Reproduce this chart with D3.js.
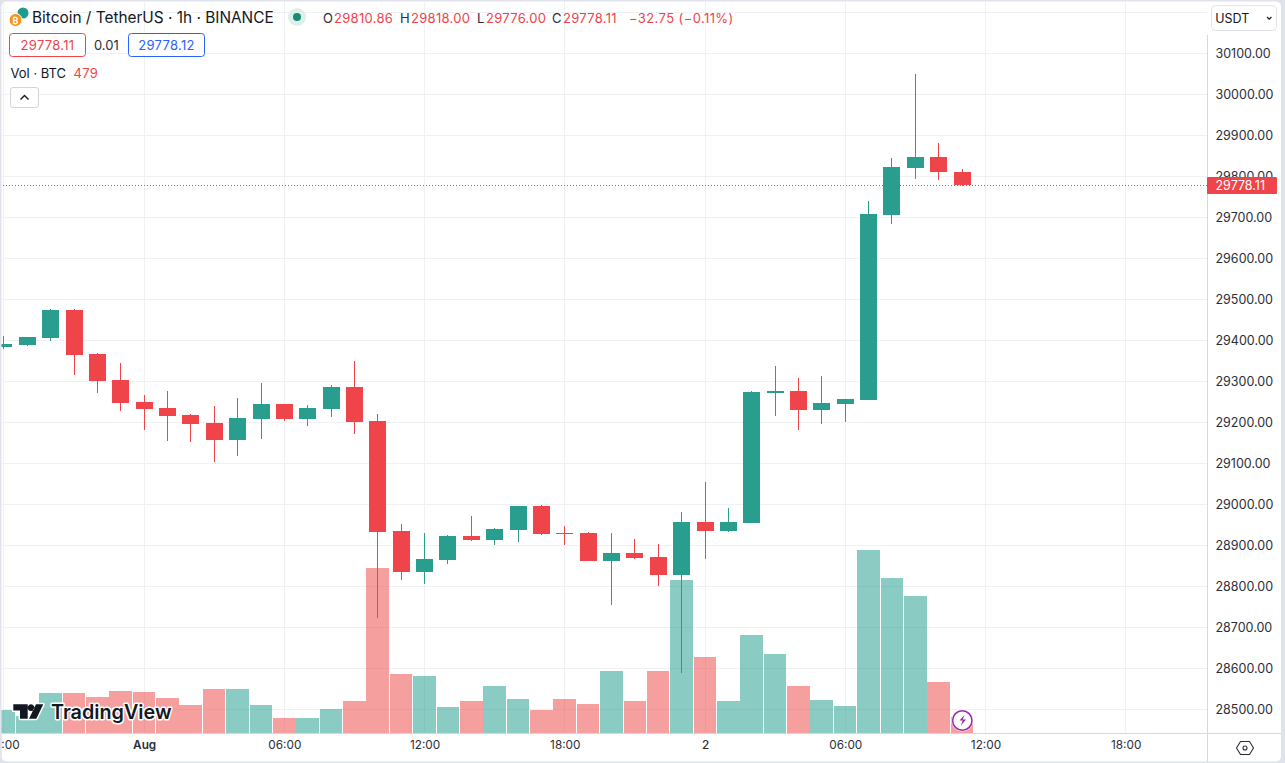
<!DOCTYPE html>
<html><head><meta charset="utf-8">
<script src="https://cdn.jsdelivr.net/npm/d3@7/dist/d3.min.js"></script>
<style>
html,body{margin:0;padding:0;background:#e0e3eb;overflow:hidden}
svg{display:block}
text{font-family:Inter,"Noto Sans",sans-serif;font-size:13px;fill:#131722}
</style></head><body>
<svg id="c" width="1285" height="763"></svg>
<script>
const hours=[-6,-5,-4,-3,-2,-1,0,1,2,3,4,5,6,7,8,9,10,11,12,13,14,15,16,17,18,19,20,21,22,23,24,25,26,27,28,29,30,31,32,33,34,35];
const opens=[29383,29387.8,29404.9,29473.2,29365.9,29302.5,29248.8,29234.2,29217.1,29197.6,29156.1,29207.3,29243.9,29207.3,29231.7,29285.4,29202.4,28934.2,28834.2,28863.4,28922,28912.3,28936.7,28995.2,28929.3,28929.3,28861,28880.5,28870.8,28826.8,28956,28934.2,28953.6,29270.7,29275.6,29229.3,29243.9,29253.7,29704.9,29819.5,29846.4,29810.86];
const highs=[29409.8,29408,29475.6,29475,29368.3,29343.9,29265.9,29275.6,29219.5,29239,29258.5,29295.1,29245,29241.5,29290.3,29348.8,29219.5,28951.2,28929.3,28924.4,28970.8,28941.5,28996,28997.6,28946.4,28931.7,28929.3,28914.6,28902.5,28980.5,29053.7,28990.2,29275.6,29336.6,29307.3,29312.2,29257,29739,29843.9,30048.8,29880.5,29818];
const lows=[29378,29385.4,29397.6,29314.6,29270.7,29226.8,29180.5,29153.7,29151.2,29102.5,29117.1,29158.5,29202.4,29190.3,29212.2,29170.7,28722,28814.7,28804.9,28853.7,28909.8,28900,28907.3,28925,28900,28860,28753.7,28865.9,28800,28587.8,28865.9,28931.7,28953,29214.6,29180.5,29195.2,29200,29253,29683,29792.7,29790.3,29776];
const closes=[29390.2,29407.3,29473.2,29363.4,29300,29246.3,29231.7,29214.7,29195.2,29156.1,29209.8,29243.9,29207.3,29234.2,29285.4,29200,28931.7,28834.2,28865.9,28922,28912.3,28939.1,28995.2,28926.8,28926.8,28861,28880.5,28868.3,28826.8,28956,28934.2,28956,29273.2,29275.6,29229.3,29246.3,29256,29707.3,29822,29846.4,29810.86,29778.11];
const volumes=[690,510,1200,1200,1080,1260,1230,1050,840,1320,1320,840,450,450,720,960,4950,1770,1710,780,960,1410,1020,690,1020,870,1860,960,1860,4590,2280,960,2940,2370,1410,990,810,5490,4650,4110,1530,479];
const priceTicks=[30100,30000,29900,29800,29700,29600,29500,29400,29300,29200,29100,29000,28900,28800,28700,28600,28500];
const gridPrices=[30200].concat(priceTicks);
const timeTicks=[-6,0,6,12,18,24,30,36,42];
const timeLabels=["18:00","Aug","06:00","12:00","18:00","2","06:00","12:00","18:00"];
const lastPrice=29778.11;
const title="Bitcoin / TetherUS · 1h · BINANCE";
const legendOHLC=[["O","29810.86",323,334],["H","29818.00",400,411],["L","29776.00",477,486],["C","29778.11",552,563]];
const legendChange="−32.75 (−0.11%)";
const bid="29778.11",spread="0.01",ask="29778.12",volLabel="Vol · BTC",volNow="479",currency="USDT";

const UP="#2a9e8e",DOWN="#ee444a",UPV="rgb(21,153,135)",DOWNV="rgb(235,63,63)",GRID="#f0f1f4",AXIS="#d6d8df";
const svg=d3.select("#c");
const x=d3.scaleLinear().domain([0,24]).range([144.15,705.03]);
const y=d3.scaleLinear().domain([28500,30100]).range([709,53]);
const yv=d3.scaleLinear().domain([0,6000]).range([733,533]);
const sx=h=>Math.floor(x(h))+.5;

// panel
svg.append("rect").attr("x",1.5).attr("y",1.5).attr("width",1279.5).attr("height",760).attr("rx",5).attr("fill","#fff");
const defs=svg.append("defs");
defs.append("clipPath").attr("id","pane").append("rect").attr("x",1.5).attr("y",1.5).attr("width",1205.5).attr("height",731.5);

const pane=svg.append("g").attr("clip-path","url(#pane)");
pane.append("g").selectAll("line").data(timeTicks).join("line")
 .attr("x1",d=>sx(d)).attr("x2",d=>sx(d)).attr("y1",0).attr("y2",733).attr("stroke",GRID);
pane.append("g").selectAll("line").data(gridPrices).join("line")
 .attr("x1",0).attr("x2",1207).attr("y1",d=>Math.round(y(d))+.5).attr("y2",d=>Math.round(y(d))+.5).attr("stroke",GRID);

// volume
const idx=d3.range(hours.length);
pane.append("g").attr("shape-rendering","crispEdges").selectAll("rect").data(idx).join("rect")
 .attr("x",i=>Math.round(x(hours[i])-11.4)).attr("width",i=>Math.round(x(hours[i])+11.2)-Math.round(x(hours[i])-11.4))
 .attr("y",i=>yv(volumes[i])).attr("height",i=>733-yv(volumes[i]))
 .attr("fill",i=>closes[i]>=opens[i]?UPV:DOWNV).attr("fill-opacity",.5);

// candles
const cg=pane.append("g").attr("shape-rendering","crispEdges");
cg.selectAll("line").data(idx).join("line")
 .attr("x1",i=>sx(hours[i])).attr("x2",i=>sx(hours[i]))
 .attr("y1",i=>y(highs[i])).attr("y2",i=>y(lows[i]))
 .attr("stroke",i=>closes[i]>=opens[i]?UP:DOWN);
cg.selectAll("rect").data(idx).join("rect")
 .attr("x",i=>sx(hours[i])-8.5).attr("width",17)
 .attr("y",i=>y(Math.max(opens[i],closes[i])))
 .attr("height",i=>Math.max(1.5,Math.abs(y(opens[i])-y(closes[i]))))
 .attr("fill",i=>closes[i]>=opens[i]?UP:DOWN);

// last price line
pane.append("line").attr("x1",0).attr("x2",1207).attr("y1",Math.round(y(lastPrice))+.5).attr("y2",Math.round(y(lastPrice))+.5)
 .attr("stroke",DOWN).attr("stroke-dasharray","1 2");

// axes
svg.append("line").attr("x1",1207.5).attr("x2",1207.5).attr("y1",35).attr("y2",762).attr("stroke",AXIS);
svg.append("line").attr("x1",1.5).attr("x2",1281).attr("y1",733.5).attr("y2",733.5).attr("stroke",AXIS);
const ya=svg.append("g").attr("transform","translate(1215.5,0)")
 .call(d3.axisRight(y).tickValues(priceTicks).tickSize(0).tickPadding(0).tickFormat(d=>d3.format(".2f")(d)));
ya.select(".domain").remove();
ya.selectAll("text").style("font-family","Inter").style("font-size","12.5px").style("fill","#2a2e39");
const labelOf=new Map(timeTicks.map((t,i)=>[t,timeLabels[i]]));
const xa=svg.append("g").attr("transform","translate(0,734)")
 .call(d3.axisBottom(x).tickValues(timeTicks).tickSize(0).tickPadding(7).tickFormat(d=>labelOf.get(d)));
xa.select(".domain").remove();
xa.selectAll("text").style("font-family","Inter").style("font-size","11.8px").style("fill","#2a2e39")
 .style("font-weight",function(){return this.textContent==="Aug"?600:this.textContent==="2"?500:400});
svg.append("rect").attr("x",0).attr("y",734).attr("width",1.5).attr("height",29).attr("fill","#e0e3eb");

// last price tag
svg.append("rect").attr("x",1207).attr("y",177).attr("width",70).attr("height",17).attr("rx",1).attr("fill",DOWN);
svg.append("text").attr("x",1215.5).attr("y",190).style("font-size","12.5px").style("fill","#fff").text(d3.format(".2f")(lastPrice));

// header
svg.append("circle").attr("cx",23).attr("cy",13).attr("r",5.5).attr("fill","#1f9d8b");
svg.append("circle").attr("cx",15.5).attr("cy",20).attr("r",6.5).attr("fill","#f7931a").attr("stroke","#fff");
svg.append("text").attr("x",15.5).attr("y",23.5).attr("text-anchor","middle").style("font-size","9px").style("font-weight",700).style("fill","#fff").text("₿");
svg.append("text").attr("x",32).attr("y",23).style("font-size","15.4px").text(title);
svg.append("circle").attr("cx",297).attr("cy",17).attr("r",9).attr("fill","#dcefeb");
svg.append("circle").attr("cx",297).attr("cy",17).attr("r",4).attr("fill","#1b8a73");
const leg=svg.append("g").style("letter-spacing","0.3px");
legendOHLC.forEach(([k,v,a,b])=>{
 leg.append("text").attr("x",a).attr("y",23).style("fill","#2a2e39").text(k);
 leg.append("text").attr("x",b).attr("y",23).style("fill",DOWN).text(v);
});
leg.append("text").attr("x",629).attr("y",23).style("letter-spacing","0.4px").style("fill",DOWN).text(legendChange);

function box(x0,w,col,t){
 svg.append("rect").attr("x",x0).attr("y",33.5).attr("width",w).attr("height",23).attr("rx",3).attr("fill","#fff").attr("stroke",col);
 svg.append("text").attr("x",x0+w/2).attr("y",50).attr("text-anchor","middle").style("letter-spacing","0.3px").style("fill",col).text(t);
}
box(9.5,76,"#ee444a",bid);
svg.append("text").attr("x",94).attr("y",50).style("fill","#2a2e39").text(spread);
box(128.5,76,"#2962ff",ask);
svg.append("text").attr("x",10.5).attr("y",78).style("fill","#131722").text(volLabel);
svg.append("text").attr("x",73.5).attr("y",78).style("letter-spacing","0.3px").style("fill",DOWN).text(volNow);
svg.append("rect").attr("x",10.5).attr("y",87.5).attr("width",28).attr("height",20).attr("rx",2.5).attr("fill","#fff").attr("stroke","#d1d4dc");
svg.append("path").attr("d","M20.5 99.5l4-4 4 4").attr("fill","none").attr("stroke","#131722").attr("stroke-width",1.4);

// currency
svg.append("rect").attr("x",1211.5).attr("y",5.5).attr("width",65).attr("height",25).attr("rx",4).attr("fill","#fff").attr("stroke","#e0e3eb");
svg.append("text").attr("x",1215.3).attr("y",22.5).style("font-size","12.5px").text(currency);
svg.append("path").attr("d","M1267 17l2.2 2.2 2.2-2.2").attr("fill","none").attr("stroke","#131722").attr("stroke-width",1.2);

// logo
const logo=svg.append("g");
const logoD="M13.3 704.3h14.4v14.4h-7.7v-8.2h-6.7zM31 704.3a3.4 3.4 0 1 0 .01 0zM36 704.3h7.3l-7 14.4h-7.3z";
logo.append("path").attr("d",logoD).attr("fill","#131722").attr("stroke","#fff").attr("stroke-width",3).attr("paint-order","stroke").attr("stroke-linejoin","round");
logo.append("text").attr("x",51).attr("y",719).style("font-size","19.8px").style("font-weight",600).style("fill","#131722")
 .attr("stroke","#fff").attr("stroke-width",3).attr("paint-order","stroke").attr("stroke-linejoin","round").text("TradingView");

// lightning
svg.append("circle").attr("cx",962.3).attr("cy",720.5).attr("r",11).attr("fill","#fff").attr("fill-opacity",.75);
svg.append("circle").attr("cx",962.3).attr("cy",720.5).attr("r",9.7).attr("fill","#fff").attr("stroke","#9c27b0").attr("stroke-width",1.5);
svg.append("path").attr("d","M964.5 715l-5 5.5h3.2l-1.8 5 5.2-6h-3.3z").attr("fill","#9c27b0");

// settings
svg.append("path").attr("d","M1240.5 741.5h9l4 6.5-4 6.5h-9l-4-6.5z").attr("fill","none").attr("stroke","#2a2e39").attr("stroke-width",1.1).attr("stroke-linejoin","round");
svg.append("circle").attr("cx",1245).attr("cy",748).attr("r",2).attr("fill","none").attr("stroke","#2a2e39").attr("stroke-width",1.1);
</script>
</body></html>
